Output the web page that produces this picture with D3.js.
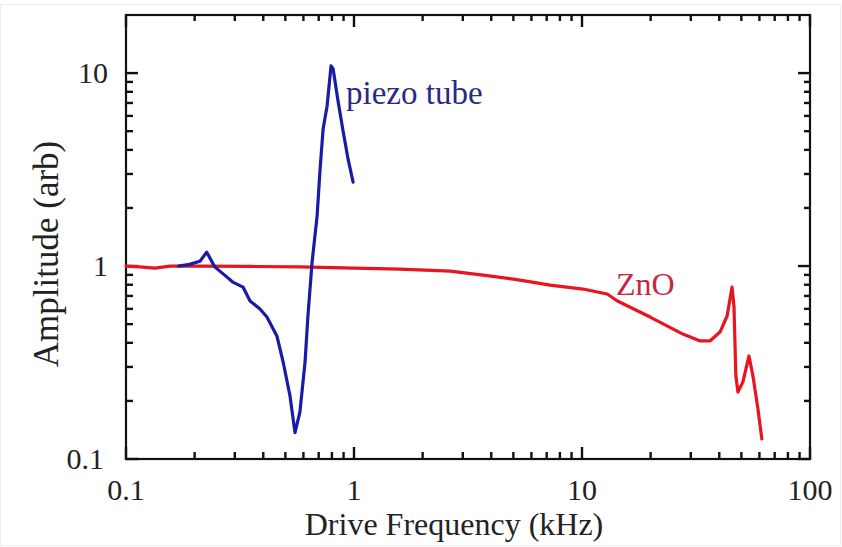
<!DOCTYPE html>
<html>
<head>
<meta charset="utf-8">
<script src="https://cdn.jsdelivr.net/npm/d3@7/dist/d3.min.js"></script>
<style>
  html, body { margin: 0; padding: 0; background: #fff; }
  svg { display: block; }
  text { font-family: "Liberation Serif", "DejaVu Serif", serif; }
</style>
</head>
<body>
<svg id="chart" width="842" height="547"></svg>
<script>
// ---- data ----
const piezoFreq = [0.17, 0.19, 0.211, 0.226, 0.245, 0.27, 0.294, 0.326, 0.35, 0.387, 0.415, 0.459, 0.489, 0.524, 0.551, 0.579, 0.61, 0.628, 0.655, 0.689, 0.71, 0.732, 0.762, 0.793, 0.81, 0.851, 0.896, 0.942, 0.991];
const piezoAmp  = [1.0, 1.02, 1.06, 1.18, 0.99, 0.90, 0.826, 0.778, 0.659, 0.599, 0.544, 0.434, 0.318, 0.212, 0.137, 0.175, 0.318, 0.551, 1.05, 1.82, 3.18, 5.13, 6.75, 10.9, 10.5, 7.16, 5.0, 3.58, 2.72];

const znoFreq = [0.1, 0.115, 0.134, 0.156, 0.211, 0.35, 0.579, 1.0, 1.59, 2.64, 3.68, 5.35, 7.24, 10.1, 12.9, 14.3, 19.9, 27.7, 33.0, 36.4, 40.3, 43.3, 45.5, 46.4, 47.3, 48.3, 50.8, 54.0, 56.2, 59.1, 61.5];
const znoAmp  = [1.0, 0.99, 0.976, 1.0, 1.0, 0.995, 0.99, 0.976, 0.965, 0.942, 0.898, 0.846, 0.797, 0.76, 0.716, 0.659, 0.544, 0.444, 0.409, 0.409, 0.455, 0.551, 0.778, 0.62, 0.269, 0.222, 0.251, 0.342, 0.269, 0.182, 0.127];

const xMajorTicks = [0.1, 1, 10, 100];
const xTickLabels = ["0.1", "1", "10", "100"];
const yMajorTicks = [0.1, 1, 10];
const yTickLabels = ["0.1", "1", "10"];

const xTitle = "Drive Frequency (kHz)";
const yTitle = "Amplitude (arb)";
const piezoLabel = "piezo tube";
const znoLabel = "ZnO";

// ---- layout ----
const L = 126, R = 810, T = 15, B = 459;
const svg = d3.select("#chart");

svg.append("rect").attr("x", 0.5).attr("y", 4.5).attr("width", 840).attr("height", 541)
  .attr("fill", "#fff").attr("stroke", "#eeeeee").attr("stroke-width", 1);

const x = d3.scaleLog().domain([0.1, 100]).range([L, R]);
const y = d3.scaleLog().domain([0.1, 20]).range([B, T]);

const isMajor = (v, arr) => arr.some(m => Math.abs(m - v) / m < 1e-6);
const xTicksAll = x.ticks().map(v => ({ v: v, major: isMajor(v, xMajorTicks) }));
const yTicksAll = y.ticks().filter(v => v < 19.9).map(v => ({ v: v, major: isMajor(v, yMajorTicks) }));

function drawTicks(cls, data, fx1, fx2, fy1, fy2) {
  svg.append("g").attr("class", cls).selectAll("line").data(data).join("line")
    .attr("x1", fx1).attr("x2", fx2).attr("y1", fy1).attr("y2", fy2)
    .attr("stroke", "#111").attr("stroke-width", 2.4);
}
// bottom, top, left, right (all inward)
drawTicks("xb", xTicksAll, d => x(d.v), d => x(d.v), B, d => B - (d.major ? 12 : 7));
drawTicks("xt", xTicksAll, d => x(d.v), d => x(d.v), T, d => T + (d.major ? 12 : 6));
drawTicks("yl", yTicksAll, L, d => L + (d.major ? 12 : 7), d => y(d.v), d => y(d.v));
drawTicks("yr", yTicksAll, R, d => R - (d.major ? 12 : 6), d => y(d.v), d => y(d.v));

// frame
svg.append("rect").attr("x", L).attr("y", T).attr("width", R - L).attr("height", B - T)
  .attr("fill", "none").attr("stroke", "#111").attr("stroke-width", 2.2);

// tick labels
svg.append("g").selectAll("text").data(xMajorTicks).join("text")
  .attr("x", d => x(d)).attr("y", 500)
  .attr("text-anchor", "middle").attr("font-size", 30).attr("fill", "#222")
  .text((d, i) => xTickLabels[i]);
svg.append("g").selectAll("text").data(yMajorTicks).join("text")
  .attr("x", (d, i) => i === 0 ? 104 : 108).attr("y", d => y(d))
  .attr("dy", "0.33em")
  .attr("text-anchor", "end").attr("font-size", 30).attr("fill", "#222")
  .text((d, i) => yTickLabels[i]);

// titles
svg.append("text").attr("x", 454).attr("y", 535).attr("text-anchor", "middle")
  .attr("font-size", 32).attr("fill", "#222").text(xTitle);
svg.append("text").attr("transform", `translate(58,254) rotate(-90)`).attr("text-anchor", "middle")
  .attr("font-size", 35).attr("fill", "#222").text(yTitle);

// lines
const line = d3.line().x(d => x(d[0])).y(d => y(d[1]));
const znoData = znoFreq.map((f, i) => [f, znoAmp[i]]);
const piezoData = piezoFreq.map((f, i) => [f, piezoAmp[i]]);

svg.append("path").datum(znoData).attr("d", line)
  .attr("fill", "none").attr("stroke", "#e8141e").attr("stroke-width", 3.2)
  .attr("stroke-linejoin", "round").attr("stroke-linecap", "round");
svg.append("path").datum(piezoData).attr("d", line)
  .attr("fill", "none").attr("stroke", "#1a1aa8").attr("stroke-width", 3.2)
  .attr("stroke-linejoin", "round").attr("stroke-linecap", "round");

// curve labels
svg.append("text").attr("x", 346).attr("y", 104).attr("font-size", 33)
  .attr("fill", "#2a2a86").text(piezoLabel);
svg.append("text").attr("x", 616).attr("y", 295).attr("font-size", 32)
  .attr("fill", "#c22a44").text(znoLabel);
</script>
</body>
</html>
